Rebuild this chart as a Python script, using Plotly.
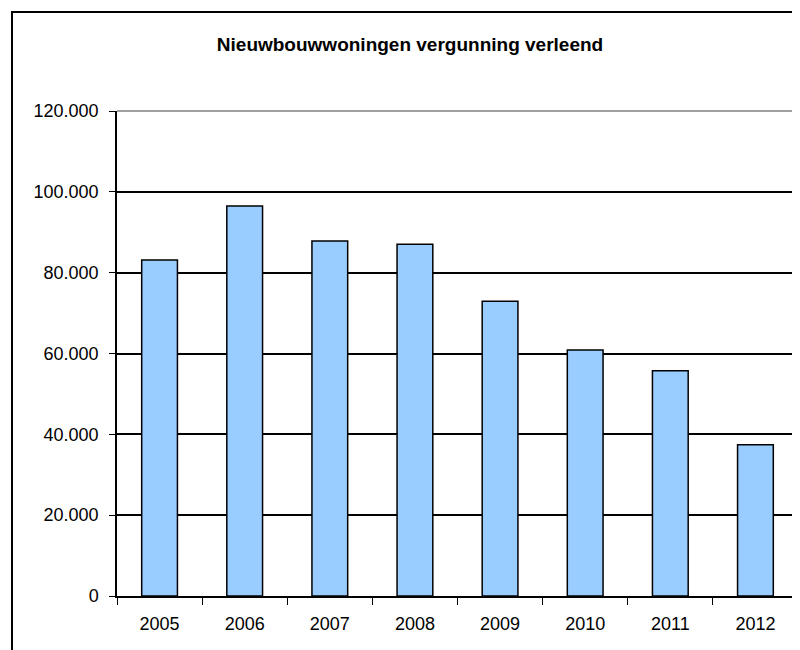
import plotly.graph_objects as go

years = ["2005", "2006", "2007", "2008", "2009", "2010", "2011", "2012"]
permits = [83150, 96500, 87850, 87050, 72950, 60850, 55750, 37400]
y_ticks = [0, 20000, 40000, 60000, 80000, 100000, 120000]
title_text = "Nieuwbouwwoningen vergunning verleend"

# page body has an 8px margin; compensate so the chart lands where the reference has it
OFF = 8
W, H = 800 - OFF, 650 - OFF
L, T = 117 - OFF, 111 - OFF
R = W - (798 - OFF)
B = H - (596 - OFF)
pw, ph = W - L - R, H - T - B

def px(x):
    return (x - OFF - L) / pw

def py(y):
    return (H - B - (y - OFF)) / ph

fig = go.Figure()
fig.add_trace(go.Bar(
    x=years, y=permits,
    marker=dict(color="#99CCFF", line=dict(color="black", width=1.5)),
    showlegend=False,
))

fig.update_layout(
    width=W, height=H,
    margin=dict(l=L, r=R, t=T, b=B, pad=0),
    paper_bgcolor="white", plot_bgcolor="white",
    separators=",.",
    bargap=0.58,
    font=dict(family="Liberation Sans, Arial, sans-serif", color="black", size=18),
    title=dict(text="<b>" + title_text + "</b>", x=(410 - OFF) / W, xanchor="center",
               y=1 - (44 - OFF) / H, yanchor="middle", xref="container", yref="container",
               font=dict(size=19, color="black")),
    xaxis=dict(
        type="category", tickson="boundaries", ticks="outside", ticklen=7,
        tickcolor="black", tickwidth=1.2, showline=True, linecolor="black", linewidth=1.5,
        showgrid=False, ticklabelstandoff=11, tickfont=dict(size=18),
    ),
    yaxis=dict(
        range=[0, 120000], tickvals=y_ticks, tickformat=",.0f", ticks="outside",
        ticklen=6, tickcolor="black", tickwidth=1.2, showline=True, linecolor="black",
        linewidth=1.5, showgrid=True, gridcolor="black", gridwidth=1.5,
        zeroline=False, ticklabelstandoff=7, tickfont=dict(size=18),
    ),
    shapes=[
        dict(type="line", xref="paper", yref="paper", x0=0, x1=1, y0=1, y1=1,
             line=dict(color="#808080", width=1.5), layer="above"),
        dict(type="line", xref="paper", yref="paper", x0=1, x1=1, y0=0, y1=1,
             line=dict(color="#808080", width=1.5), layer="above"),
        dict(type="rect", xref="paper", yref="paper", x0=px(12), x1=px(830),
             y0=py(700), y1=py(12), line=dict(color="black", width=2),
             fillcolor="rgba(0,0,0,0)", layer="above"),
    ],
)

fig.write_html("out.html")
